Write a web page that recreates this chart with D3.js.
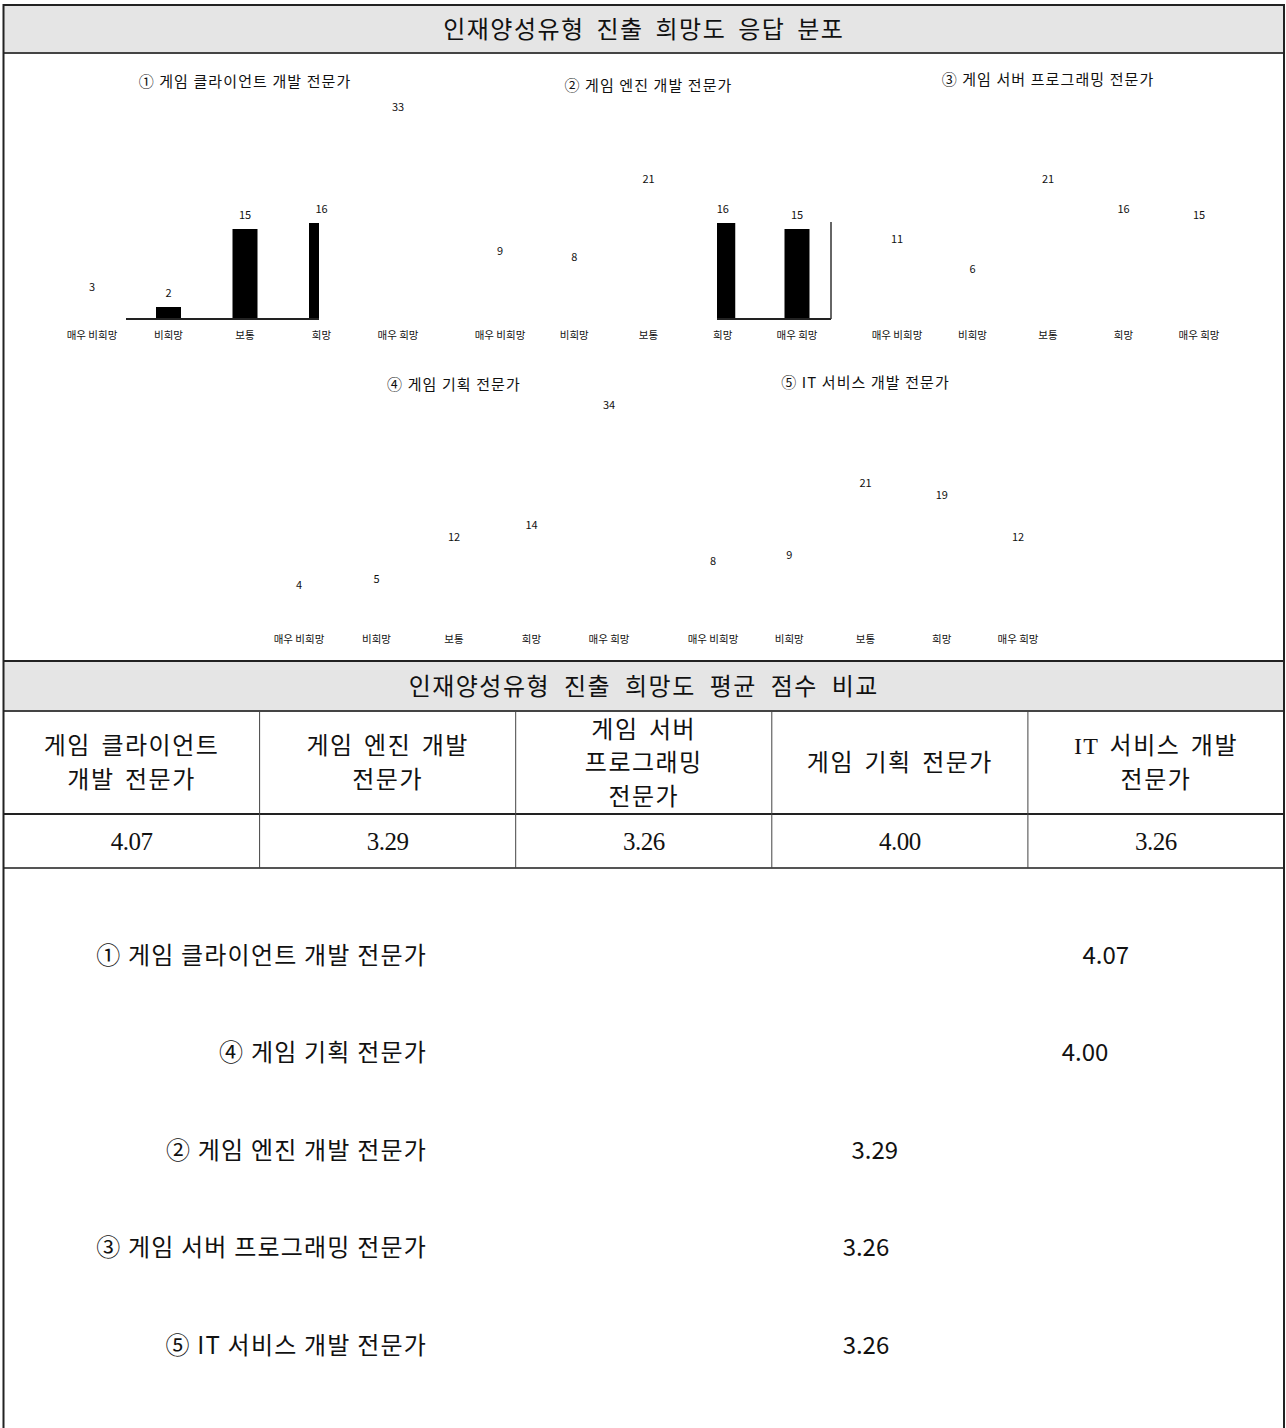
<!DOCTYPE html>
<html>
<head>
<meta charset="utf-8">
<script src="https://cdn.jsdelivr.net/npm/d3@7"></script>
<style>
  body { margin: 0; background: #fff; }
  svg text { fill: #111; }
</style>
</head>
<body>
<div id="chart"></div>
<script>
// Data
const CATEGORIES = ["매우 비희망", "비희망", "보통", "희망", "매우 희망"];
const PANEL_TITLES = [
  "① 게임 클라이언트 개발 전문가",
  "② 게임 엔진 개발 전문가",
  "③ 게임 서버 프로그래밍 전문가",
  "④ 게임 기획 전문가",
  "⑤ IT 서비스 개발 전문가"
];
const COUNTS_CLIENT   = [3, 2, 15, 16, 33];
const COUNTS_ENGINE   = [9, 8, 21, 16, 15];
const COUNTS_SERVER   = [11, 6, 21, 16, 15];
const COUNTS_PLANNING = [4, 5, 12, 14, 34];
const COUNTS_IT       = [8, 9, 21, 19, 12];

const TABLE_HEADERS = [
  ["게임 클라이언트", "개발 전문가"],
  ["게임 엔진 개발", "전문가"],
  ["게임 서버", "프로그래밍", "전문가"],
  ["게임 기획 전문가"],
  ["IT 서비스 개발", "전문가"]
];
const MEAN_SCORES = [4.07, 3.29, 3.26, 4.00, 3.26];
// ranking order shown in the lower list
const RANK_ORDER = [0, 3, 1, 2, 4];

const TITLE_TOP    = "인재양성유형 진출 희망도 응답 분포";
const TITLE_MIDDLE = "인재양성유형 진출 희망도 평균 점수 비교";

// Layout
const W = 1286, H = 1428;
const LEFT = 3.5, RIGHT = 1284;
const SANS  = "'Noto Sans CJK KR', 'Noto Sans', sans-serif";
const SERIF = "'Liberation Serif', 'Noto Sans CJK KR', serif";

// panel geometry (x range of category points, baseline, title pos, visible window)
const panels = [
  { counts: COUNTS_CLIENT,   x0: 92,  x1: 398,  base: 319, titleY: 82,  clip: [126, 319] },
  { counts: COUNTS_ENGINE,   x0: 500, x1: 797,  base: 319, titleY: 86,  clip: [717, 831], edge: 222 },
  { counts: COUNTS_SERVER,   x0: 897, x1: 1199, base: 319, titleY: 80,  clip: null },
  { counts: COUNTS_PLANNING, x0: 299, x1: 609,  base: 623, titleY: 385, clip: null },
  { counts: COUNTS_IT,       x0: 713, x1: 1018, base: 623, titleY: 383, clip: null }
];

const svg = d3.select("#chart").append("svg")
  .attr("width", W)
  .attr("height", H);

// section bands
function band(y0, y1, label, wordSpacing) {
  svg.append("rect")
    .attr("x", LEFT).attr("y", y0)
    .attr("width", RIGHT - LEFT).attr("height", y1 - y0)
    .attr("fill", "#e5e5e5");
  svg.append("line")
    .attr("x1", LEFT).attr("x2", RIGHT)
    .attr("y1", y0).attr("y2", y0)
    .attr("stroke", "#222").attr("stroke-width", 2);
  svg.append("line")
    .attr("x1", LEFT).attr("x2", RIGHT)
    .attr("y1", y1).attr("y2", y1)
    .attr("stroke", "#444").attr("stroke-width", 2);
  svg.append("text")
    .attr("x", (LEFT + RIGHT) / 2).attr("y", (y0 + y1) / 2)
    .attr("dy", "0.36em")
    .attr("text-anchor", "middle")
    .style("font-family", SANS)
    .style("font-size", "24px")
    .style("letter-spacing", "1.5px")
    .style("word-spacing", wordSpacing + "px")
    .text(label);
}

band(5, 53, TITLE_TOP, 5);
band(661, 711, TITLE_MIDDLE, 7);

// Small bar panels
const y = d3.scaleLinear().domain([0, 35]).range([0, 210]);

panels.forEach((p, i) => {
  const x = d3.scalePoint().domain(CATEGORIES).range([p.x0, p.x1]);
  const g = svg.append("g");

  g.append("text")
    .attr("x", (p.x0 + p.x1) / 2).attr("y", p.titleY)
    .attr("dy", "0.35em")
    .attr("text-anchor", "middle")
    .style("font-family", SANS)
    .style("font-size", "15px")
    .style("letter-spacing", "1.1px")
    .text(PANEL_TITLES[i]);

  // category labels
  g.selectAll(".cat")
    .data(CATEGORIES)
    .enter().append("text")
    .attr("x", d => x(d)).attr("y", p.base + 16)
    .attr("dy", "0.35em")
    .attr("text-anchor", "middle")
    .style("font-family", SANS)
    .style("font-size", "10.5px")
    .text(d => d);

  // value labels
  g.selectAll(".val")
    .data(p.counts)
    .enter().append("text")
    .attr("x", (d, j) => x(CATEGORIES[j]))
    .attr("y", d => p.base - y(d) - 14)
    .attr("dy", "0.35em")
    .attr("text-anchor", "middle")
    .style("font-family", SANS)
    .style("font-size", "11px")
    .text(d => d);

  // only part of the bars is visible in the source
  if (p.clip) {
    const id = "clip" + i;
    svg.append("clipPath").attr("id", id)
      .append("rect")
      .attr("x", p.clip[0]).attr("y", p.base - 230)
      .attr("width", p.clip[1] - p.clip[0]).attr("height", 232);

    const bars = g.append("g").attr("clip-path", `url(#${id})`);
    bars.selectAll("rect")
      .data(p.counts)
      .enter().append("rect")
      .attr("x", (d, j) => x(CATEGORIES[j]) - 12.5)
      .attr("y", d => p.base - y(d))
      .attr("width", 25)
      .attr("height", d => y(d))
      .attr("fill", "#000");

    g.append("line")
      .attr("x1", p.clip[0]).attr("x2", p.clip[1])
      .attr("y1", p.base).attr("y2", p.base)
      .attr("stroke", "#222").attr("stroke-width", 2);

    if (p.edge) {
      g.append("line")
        .attr("x1", p.clip[1]).attr("x2", p.clip[1])
        .attr("y1", p.edge).attr("y2", p.base)
        .attr("stroke", "#333").attr("stroke-width", 1.5);
    }
  }
});

// Mean score table
const colX = d3.scaleBand().domain(d3.range(5)).range([LEFT, RIGHT]);
const headTop = 711, headBot = 814, rowBot = 868;

svg.append("line")
  .attr("x1", LEFT).attr("x2", RIGHT)
  .attr("y1", headBot).attr("y2", headBot)
  .attr("stroke", "#222").attr("stroke-width", 2);
svg.append("line")
  .attr("x1", LEFT).attr("x2", RIGHT)
  .attr("y1", rowBot).attr("y2", rowBot)
  .attr("stroke", "#555").attr("stroke-width", 2);

d3.range(1, 5).forEach(c => {
  svg.append("line")
    .attr("x1", colX(c)).attr("x2", colX(c))
    .attr("y1", headTop).attr("y2", rowBot)
    .attr("stroke", "#444").attr("stroke-width", 1);
});

TABLE_HEADERS.forEach((lines, c) => {
  const cx = colX(c) + colX.bandwidth() / 2;
  const cy = (headTop + headBot) / 2;
  const lh = 33.5;
  lines.forEach((ln, k) => {
    svg.append("text")
      .attr("x", cx)
      .attr("y", cy + (k - (lines.length - 1) / 2) * lh)
      .attr("dy", "0.36em")
      .attr("text-anchor", "middle")
      .style("font-family", SERIF)
      .style("font-size", "24px")
      .style("letter-spacing", "1.5px")
      .style("word-spacing", "3px")
      .text(ln);
  });
  svg.append("text")
    .attr("x", cx).attr("y", (headBot + rowBot) / 2)
    .attr("dy", "0.36em")
    .attr("text-anchor", "middle")
    .style("font-family", SERIF)
    .style("font-size", "25px")
    .style("letter-spacing", "-0.5px")
    .text(MEAN_SCORES[c].toFixed(2));
});

// Ranked list with value labels placed by score
const rankY = d3.scalePoint().domain(RANK_ORDER).range([955, 1345]);
const scoreX = d3.scaleLinear().domain([2, 4.5]).range([493, 1233]);

RANK_ORDER.forEach(idx => {
  svg.append("text")
    .attr("x", 427).attr("y", rankY(idx))
    .attr("dy", "0.36em")
    .attr("text-anchor", "end")
    .style("font-family", SANS)
    .style("font-size", "24px")
    .style("letter-spacing", "1.2px")
    .text(PANEL_TITLES[idx]);
  svg.append("text")
    .attr("x", scoreX(MEAN_SCORES[idx])).attr("y", rankY(idx))
    .attr("dy", "0.36em")
    .attr("text-anchor", "middle")
    .style("font-family", SANS)
    .style("font-size", "24px")
    .text(MEAN_SCORES[idx].toFixed(2));
});

// outer frame
svg.append("line")
  .attr("x1", LEFT).attr("x2", LEFT).attr("y1", 4).attr("y2", H)
  .attr("stroke", "#222").attr("stroke-width", 2);
svg.append("line")
  .attr("x1", RIGHT).attr("x2", RIGHT).attr("y1", 4).attr("y2", H)
  .attr("stroke", "#222").attr("stroke-width", 2);
</script>
</body>
</html>
